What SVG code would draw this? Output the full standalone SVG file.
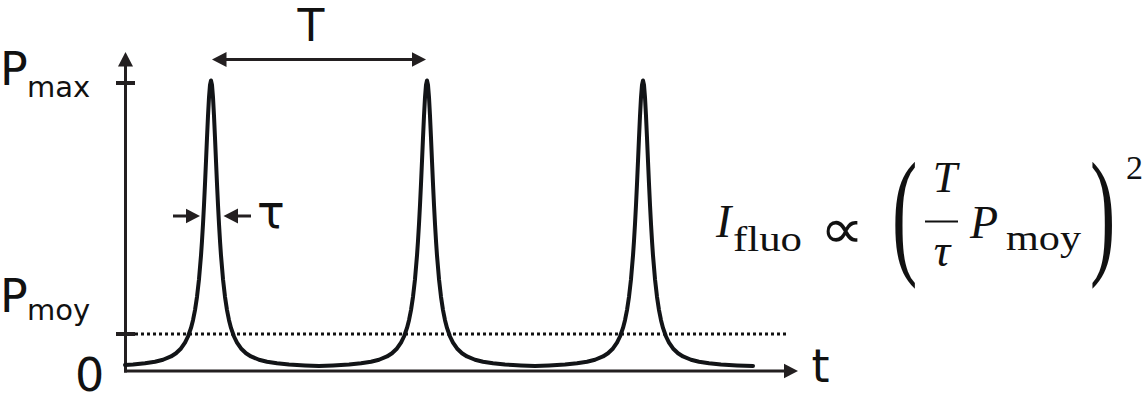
<svg xmlns="http://www.w3.org/2000/svg" width="1148" height="402" viewBox="0 0 1148 402">
<style>
.lbl{font-family:"DejaVu Sans",sans-serif;fill:#111;}
.big{font-size:46px;}
.sub{font-size:29px;}
.m{font-family:"Liberation Serif","DejaVu Serif",serif;fill:#111;}
.mi{font-style:italic;font-size:44px;}
.mr{font-size:36px;}
.ax{stroke:#231f20;fill:none;stroke-width:3;}
.tick{stroke:#231f20;stroke-width:4;}
.arr{stroke:#231f20;fill:none;stroke-width:3;marker-end:url(#ah);}
.curve{fill:none;stroke:#121417;stroke-width:4;stroke-linejoin:round;stroke-linecap:round;}
.dot{stroke:#111;stroke-width:3;stroke-dasharray:3 3;fill:none;}
</style>
<defs>
<marker id="ah" viewBox="0 -8 15 16" markerWidth="15" markerHeight="16" refX="0.5" refY="0" orient="auto-start-reverse" markerUnits="userSpaceOnUse">
<path d="M0,-7.5 L14.5,0 L0,7.5 Z" fill="#231f20"/>
</marker>
</defs>
<g id="connectors">
<path class="ax" d="M125.5,372.5 V66" marker-end="url(#ah)"/>
<path class="ax" d="M124,371 H784" marker-end="url(#ah)"/>
<line class="tick" x1="116" y1="83" x2="135" y2="83"/>
<line class="tick" x1="116" y1="334" x2="135" y2="334"/>
<path class="dot" d="M135,334 H788"/>
<path class="ax" d="M226,59.5 H412" marker-start="url(#ah)" marker-end="url(#ah)"/>
<path class="arr" d="M173,216 H186"/>
<path class="arr" d="M251,216 H237.5"/>
</g>
<g id="signal">
<polyline class="curve" points="125,365.0 133,364.5 145,363.34 155,361.76 163,359.74 171,356.46 176,353.25 181,348.45 185,342.7 188,336.5 191,327.9 193,320.16 195,310.1 197,296.85 199,279.2 201,255.5 202,240.8 203,224.0 204,205.0 205,183.8 206,161.1 207,137.9 208,115.9 209,97.4 210,84.9 211,80.5 212,84.9 213,97.4 214,115.9 215,137.9 216,161.1 217,183.8 218,205.0 219,224.0 220,240.8 221,255.5 223,279.2 225,296.85 227,310.1 229,320.16 231,327.9 234,336.5 237,342.7 241,348.45 246,353.25 251,356.46 259,359.74 267,361.76 277,363.34 289,364.5 297,365.0 305,365.4 319,365.9 333,365.4 341,365.0 349,364.5 361,363.34 371,361.76 379,359.74 387,356.46 392,353.25 397,348.45 401,342.7 404,336.5 407,327.9 409,320.16 411,310.1 413,296.85 415,279.2 417,255.5 418,240.8 419,224.0 420,205.0 421,183.8 422,161.1 423,137.9 424,115.9 425,97.4 426,84.9 427,80.5 428,84.9 429,97.4 430,115.9 431,137.9 432,161.1 433,183.8 434,205.0 435,224.0 436,240.8 437,255.5 439,279.2 441,296.85 443,310.1 445,320.16 447,327.9 450,336.5 453,342.7 457,348.45 462,353.25 467,356.46 475,359.74 483,361.76 493,363.34 505,364.5 513,365.0 521,365.4 535,365.9 549,365.4 557,365.0 565,364.5 577,363.34 587,361.76 595,359.74 603,356.46 608,353.25 613,348.45 617,342.7 620,336.5 623,327.9 625,320.16 627,310.1 629,296.85 631,279.2 633,255.5 634,240.8 635,224.0 636,205.0 637,183.8 638,161.1 639,137.9 640,115.9 641,97.4 642,84.9 643,80.5 644,84.9 645,97.4 646,115.9 647,137.9 648,161.1 649,183.8 650,205.0 651,224.0 652,240.8 653,255.5 655,279.2 657,296.85 659,310.1 661,320.16 663,327.9 666,336.5 669,342.7 673,348.45 678,353.25 683,356.46 691,359.74 699,361.76 709,363.34 721,364.5 729,365.0 737,365.4 753,365.9"/>
</g>
<g id="label-pmax">
<text class="lbl big" x="0" y="85">P</text>
<text class="lbl sub" x="27" y="97">max</text>
</g>
<g id="label-pmoy">
<text class="lbl big" x="0" y="312">P</text>
<text class="lbl sub" x="27" y="320">moy</text>
</g>
<g id="label-zero"><text class="lbl big" x="75" y="391">0</text></g>
<g id="label-T"><text class="lbl" x="311" y="41" text-anchor="middle" style="font-size:44px;">T</text></g>
<g id="label-tau"><text class="lbl big" x="257" y="228">τ</text></g>
<g id="label-t"><text class="lbl big" x="811.5" y="382">t</text></g>
<g id="formula">
<text class="m mi" x="716" y="237" style="font-size:46px;">I</text>
<text class="m mr" x="733" y="251" textLength="69" lengthAdjust="spacingAndGlyphs">fluo</text>
<text x="820" y="248" textLength="44" lengthAdjust="spacingAndGlyphs" style="font-family:'DejaVu Sans',sans-serif;font-size:56px;fill:#111;">∝</text>
<text class="m" transform="translate(892,258.8) scale(1.9,3.47)" style="font-size:40px;">(</text>
<text class="m mi" x="945" y="192" text-anchor="middle">T</text>
<line x1="925" y1="221.5" x2="958" y2="221.5" stroke="#111" stroke-width="2"/>
<text class="m mi" x="942" y="266" text-anchor="middle" style="font-size:46px;">τ</text>
<text class="m mi" x="970" y="238" style="font-size:46px;">P</text>
<text class="m mr" x="1006" y="250" textLength="75" lengthAdjust="spacingAndGlyphs">moy</text>
<text class="m" transform="translate(1090,258.8) scale(1.9,3.47)" style="font-size:40px;">)</text>
<text class="m" x="1126" y="179" style="font-size:34px;">2</text>
</g>
</svg>
